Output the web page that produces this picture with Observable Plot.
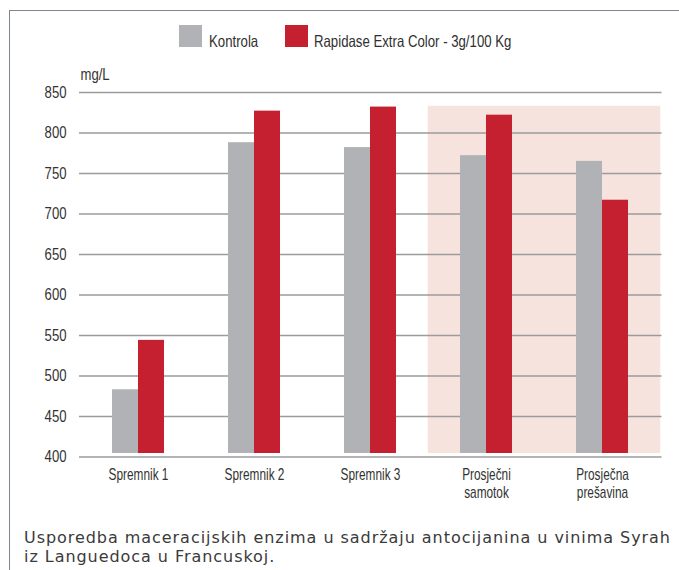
<!DOCTYPE html>
<html>
<head>
<meta charset="utf-8">
<script src="https://cdn.jsdelivr.net/npm/d3@7"></script>
<script src="https://cdn.jsdelivr.net/npm/@observablehq/plot@0.6"></script>
<style>
  html, body { margin: 0; padding: 0; background: #fff; }
  body { width: 679px; height: 570px; position: relative; overflow: hidden; }
  #frame { position: absolute; left: 8.5px; top: 10px; width: 680px; height: 570px;
           border-top: 1.5px solid #7e8790; border-left: 1.5px solid #7e8790; box-sizing: border-box; }
  #chart { position: absolute; left: 0; top: 0; }
  .leg { position: absolute; font-family: "Liberation Sans", Arial, sans-serif;
         font-size: 16.5px; color: #2f2f2f; line-height: 1; transform: scaleX(0.8); transform-origin: 0 0; white-space: nowrap; }
  .sw { position: absolute; width: 23px; height: 22px; }
  .cap { position: absolute; left: 24px; font-family: "DejaVu Sans", sans-serif; font-weight: 400;
         font-size: 16px; letter-spacing: 0.95px; line-height: 19px; height: 19px; color: #3a3a3a; white-space: nowrap; }
</style>
</head>
<body>
<div id="frame"></div>
<div id="chart"></div>
<div class="sw" style="left:179px;top:25px;background:#b1b2b6"></div>
<div class="leg" style="left:209px;top:33px">Kontrola</div>
<div class="sw" style="left:285px;top:25px;background:#c42030"></div>
<div class="leg" style="left:314px;top:33px">Rapidase Extra Color - 3g/100 Kg</div>
<div class="cap" style="top:528px">Usporedba maceracijskih enzima u sadržaju antocijanina u vinima Syrah</div>
<div class="cap" style="top:547px">iz Languedoca u Francuskoj.</div>
<script>
const categories = ["Spremnik 1", "Spremnik 2", "Spremnik 3", "Prosječni\nsamotok", "Prosječna\nprešavina"];
const kontrola = [483, 788, 782, 772, 765];
const rapidase = [544, 827, 832, 822, 717];
const yTicks = [400, 450, 500, 550, 600, 650, 700, 750, 800, 850];
const highlighted = ["Prosječni\nsamotok", "Prosječna\nprešavina"];
const highlightTop = 833;
const unitLabel = "mg/L";

const rowsK = categories.map((c, i) => ({cat: c, value: kontrola[i]}));
const rowsR = categories.map((c, i) => ({cat: c, value: rapidase[i]}));

const font = '"Liberation Sans", Arial, sans-serif';

const chart = Plot.plot({
  width: 679,
  height: 510,
  marginLeft: 79,
  marginRight: 17.5,
  marginTop: 92,
  marginBottom: 53.5,
  style: {fontFamily: font, fontSize: "16px", color: "#333", background: "transparent"},
  x: {domain: categories, paddingInner: 0.554, paddingOuter: 0.277, label: null},
  y: {domain: [400, 850], label: null},
  marks: [
    Plot.barY(highlighted, {x: d => d, y1: 400, y2: highlightTop, fill: "#f6e3dd",
      insetLeft: -32.25, insetRight: -32.25, insetBottom: 3.5}),
    Plot.ruleY(yTicks, {stroke: "#9b9b9b", strokeWidth: 1.3}),
    Plot.barY(rowsK, {x: "cat", y1: 400, y2: "value", fill: "#b1b2b6", insetRight: 26, insetBottom: 3.5}),
    Plot.barY(rowsR, {x: "cat", y1: 400, y2: "value", fill: "#c42030", insetLeft: 26, insetBottom: 3.5}),
    Plot.axisY({ticks: yTicks, tickSize: 0, tickPadding: 13, fontSize: 16, label: null}),
    Plot.axisX({tickSize: 0, tickPadding: 11, fontSize: 16, lineHeight: 1.08, label: null}),
    Plot.text([unitLabel], {frameAnchor: "top-left", text: d => d, textAnchor: "start",
      lineAnchor: "bottom", dy: -13, dx: 1, fontSize: 16})
  ]
});

// condense the chart's text horizontally (narrow typeface look)
chart.querySelectorAll("text").forEach(t => {
  const g = t.closest("[aria-label]");
  const lab = g ? g.getAttribute("aria-label") : "";
  const s = lab.startsWith("x-axis") ? 0.74 : 0.82;
  const tr = t.getAttribute("transform") || "";
  const x = t.getAttribute("x");
  if (x && isFinite(+x) && +x !== 0) {
    t.setAttribute("transform", `${tr} translate(${x},0) scale(${s},1) translate(${-x},0)`);
  } else {
    t.setAttribute("transform", `${tr} scale(${s},1)`);
  }
});
document.getElementById("chart").appendChild(chart);
</script>
</body>
</html>
